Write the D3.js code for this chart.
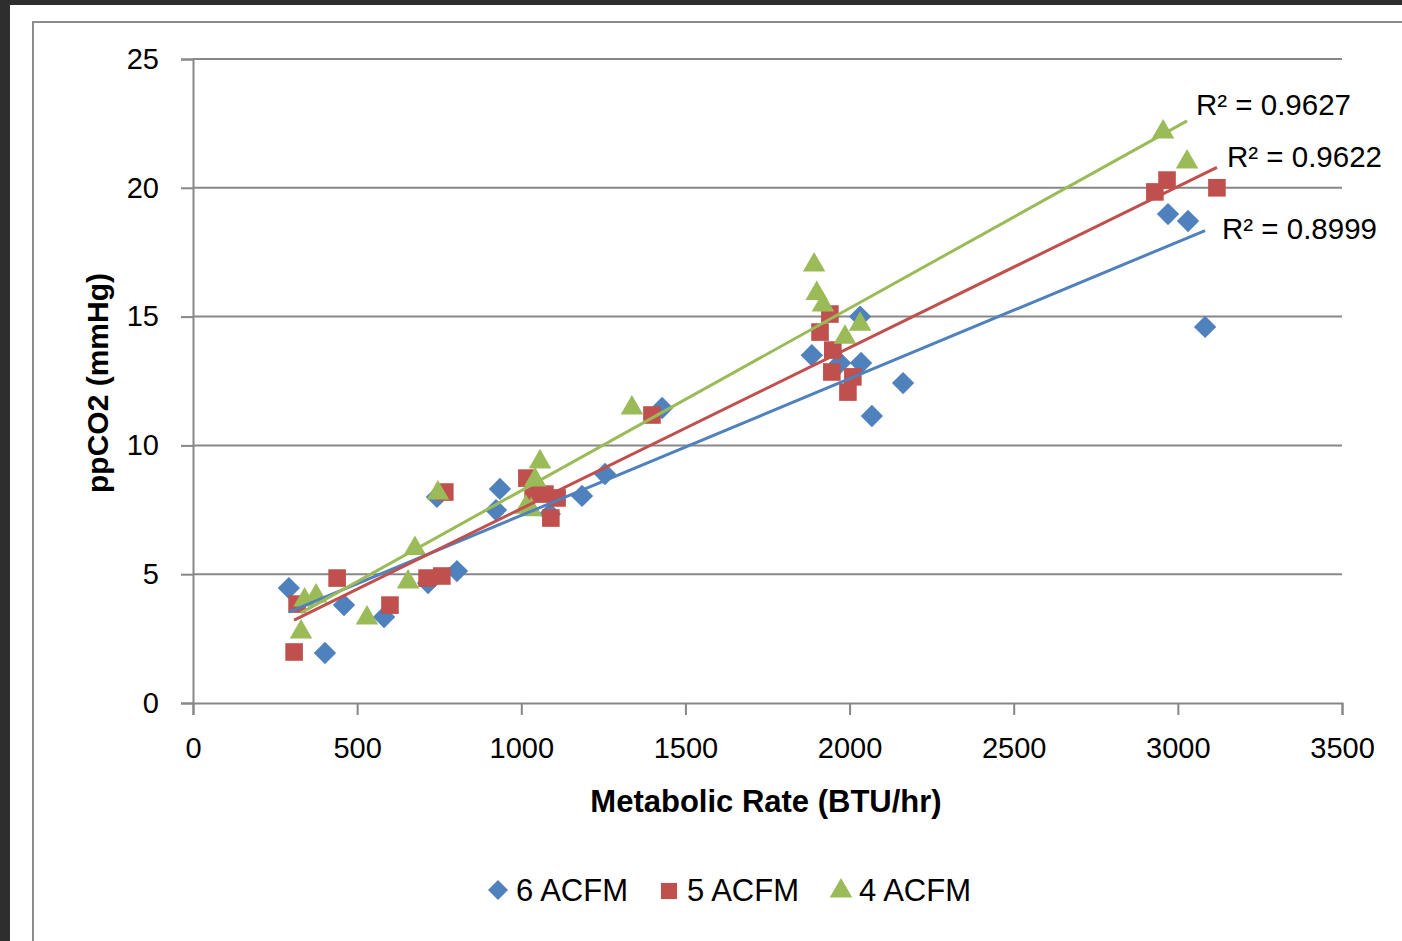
<!DOCTYPE html>
<html>
<head>
<meta charset="utf-8">
<script src="https://cdn.jsdelivr.net/npm/d3@7"></script>
<style>
    html, body { margin: 0; padding: 0; background: #2e2e2e; }
    svg { display: block; }
    text { font-family: "Liberation Sans", Arial, sans-serif; fill: #000; }
</style>
</head>
<body>
<svg id="chart" width="1402" height="941"></svg>
<script>

// series data (metabolic rate BTU/hr, ppCO2 mmHg)
var seriesNames = ["6 ACFM", "5 ACFM", "4 ACFM"];
var seriesColors = ["#4F81BD", "#C0504D", "#9BBB59"];
var r2Labels = ["R\u00b2 = 0.8999", "R\u00b2 = 0.9622", "R\u00b2 = 0.9627"];

var acfm6X = [292, 402, 460, 582, 716, 804, 743, 923, 935, 1087, 1185, 1255, 1429, 1885, 2032, 1971, 2035, 2163, 2068, 2970, 3031, 3083];
var acfm6Y = [4.46, 1.94, 3.80, 3.34, 4.66, 5.12, 8.0, 7.49, 8.31, 7.34, 8.04, 8.89, 11.45, 13.5, 15.0, 13.2, 13.2, 12.42, 11.14, 18.98, 18.71, 14.6];

var acfm5X = [308, 317, 439, 600, 713, 758, 767, 1017, 1036, 1072, 1109, 1090, 1398, 1940, 1910, 1949, 1946, 2010, 1995, 2930, 2967, 3119];
var acfm5Y = [1.98, 3.84, 4.85, 3.80, 4.85, 4.93, 8.19, 8.73, 8.15, 8.11, 7.96, 7.18, 11.18, 15.1, 14.4, 13.7, 12.85, 12.66, 12.07, 19.84, 20.3, 20.0];

var acfm4X = [329, 340, 375, 530, 655, 676, 746, 1057, 1042, 1014, 1030, 1337, 1892, 1900, 1919, 1986, 2032, 2955, 3028];
var acfm4Y = [2.76, 4.0, 4.15, 3.3, 4.7, 6.0, 8.15, 9.36, 8.66, 7.6, 7.5, 11.45, 17.0, 15.9, 15.45, 14.2, 14.7, 22.17, 21.0];

var xTicks = [0, 500, 1000, 1500, 2000, 2500, 3000, 3500];
var yTicks = [0, 5, 10, 15, 20, 25];

var svg = d3.select("#chart");

// white page + chart border
svg.append("rect").attr("x", 10).attr("y", 5).attr("width", 1402).attr("height", 941).attr("fill", "#fff");
svg.append("rect").attr("x", 33).attr("y", 22).attr("width", 1402).attr("height", 941)
    .attr("fill", "none").attr("stroke", "#8c8c8c").attr("stroke-width", 2);

var x = d3.scaleLinear().domain([0, 3500]).range([193, 1342]);
var y = d3.scaleLinear().domain([0, 25]).range([703, 59]);

// gridlines
svg.append("g").selectAll("line")
    .data(yTicks.filter(function(d) { return d > 0; }))
    .enter().append("line")
    .attr("x1", x(0)).attr("x2", x(3500))
    .attr("y1", function(d) { return y(d); })
    .attr("y2", function(d) { return y(d); })
    .attr("stroke", "#878787").attr("stroke-width", 2);

// axes
var yAxis = d3.axisLeft(y).tickValues(yTicks).tickSize(12).tickPadding(22);
var xAxis = d3.axisBottom(x).tickValues(xTicks).tickSize(12).tickPadding(22).tickFormat(d3.format("d"));

var gy = svg.append("g").attr("transform", "translate(" + x(0) + ",0)").call(yAxis);
var gx = svg.append("g").attr("transform", "translate(0," + y(0) + ")").call(xAxis);

[gx, gy].forEach(function(g) {
    g.selectAll("path").attr("stroke", "#878787").attr("stroke-width", 2);
    g.selectAll("line").attr("stroke", "#878787").attr("stroke-width", 2);
    g.selectAll("text").attr("font-size", 29).attr("font-family", "Liberation Sans, Arial, sans-serif").attr("fill", "#000");
});

// axis titles
svg.append("text").attr("x", 766).attr("y", 812).attr("text-anchor", "middle")
    .attr("font-size", 31).attr("font-weight", "bold").text("Metabolic Rate (BTU/hr)");
svg.append("text").attr("transform", "translate(108,383) rotate(-90)").attr("text-anchor", "middle")
    .attr("font-size", 30).attr("font-weight", "bold").text("ppCO2 (mmHg)");

var allSeries = [
    {xs: acfm6X, ys: acfm6Y},
    {xs: acfm5X, ys: acfm5Y},
    {xs: acfm4X, ys: acfm4Y}
];

function symbolFor(i, size) {
    if (i == 0) return d3.symbol().type(d3.symbolSquare).size(size || 250)();
    if (i == 1) return d3.symbol().type(d3.symbolSquare).size(size || 310)();
    return d3.symbol().type(d3.symbolTriangle).size(size || 220)();
}

// markers
allSeries.forEach(function(s, i) {
    var pts = s.xs.map(function(v, k) { return [v, s.ys[k]]; });
    svg.append("g").selectAll("path")
        .data(pts)
        .enter().append("path")
        .attr("d", symbolFor(i))
        .attr("transform", function(d) {
            return "translate(" + x(d[0]) + "," + y(d[1]) + ")" + (i == 0 ? " rotate(45)" : "");
        })
        .attr("fill", seriesColors[i]);
});

// linear trendlines (least squares)
allSeries.forEach(function(s, i) {
    var mx = d3.mean(s.xs), my = d3.mean(s.ys);
    var sxy = 0, sxx = 0;
    s.xs.forEach(function(v, k) { sxy += (v - mx) * (s.ys[k] - my); sxx += (v - mx) * (v - mx); });
    var slope = sxy / sxx, icpt = my - slope * mx;
    var x0 = d3.min(s.xs), x1 = d3.max(s.xs);
    svg.append("line")
        .attr("x1", x(x0)).attr("y1", y(icpt + slope * x0))
        .attr("x2", x(x1)).attr("y2", y(icpt + slope * x1))
        .attr("stroke", seriesColors[i]).attr("stroke-width", 3);
});

// R² labels
var r2Pos = [[1222, 239], [1227, 167], [1196, 115]];
r2Labels.forEach(function(t, i) {
    svg.append("text").attr("x", r2Pos[i][0]).attr("y", r2Pos[i][1])
        .attr("font-size", 29.5).text(t);
});

// legend
var legX = [498, 669, 841];
seriesNames.forEach(function(n, i) {
    var g = svg.append("g").attr("transform", "translate(" + legX[i] + ",890)");
    g.append("path").attr("d", symbolFor(i, i == 0 ? 200 : (i == 1 ? 260 : 220)))
        .attr("transform", i == 0 ? "rotate(45)" : "translate(0,1)")
        .attr("fill", seriesColors[i]);
    g.append("text").attr("x", 18).attr("y", 11).attr("font-size", 31).text(n);
});

</script>
</body>
</html>
